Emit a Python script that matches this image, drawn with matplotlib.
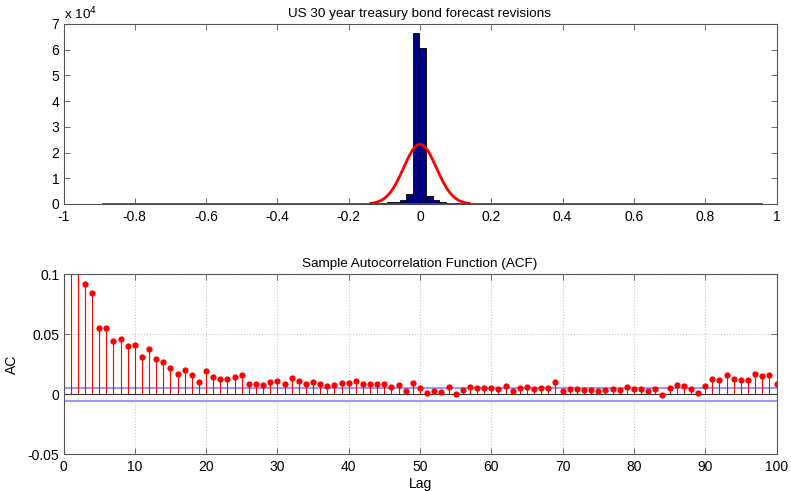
import numpy as np
import matplotlib
matplotlib.use("Agg")
import matplotlib.pyplot as plt

plt.rcParams['font.family'] = ['Liberation Sans', 'DejaVu Sans']

# ---------------- data ----------------
hist_min = -0.889
hist_max = 0.96
n_bins = 100
# nonzero bin counts (bin index -> count)
hist_bin_index = [42, 43, 44, 45, 46, 47, 48, 49, 50, 51, 52, 53]
hist_bin_count = [300, 600, 900, 1550, 4000, 66400, 60600, 3300, 1400, 900, 400, 200]

fit_mu = 0.0
fit_sigma = 0.046
fit_peak = 23200

acf_lags = list(range(0, 101))
acf_vals = [1.0, 0.16, 0.12, 0.092, 0.084, 0.055, 0.055, 0.044, 0.046, 0.040,
            0.041, 0.031, 0.038, 0.029, 0.027, 0.022, 0.017, 0.020, 0.016, 0.010,
            0.019, 0.014, 0.013, 0.013, 0.014, 0.016, 0.0085, 0.0085, 0.0075, 0.0103,
            0.0109, 0.0085, 0.0138, 0.0114, 0.0083, 0.0106, 0.0083, 0.0072, 0.0075, 0.0092,
            0.0098, 0.0111, 0.0088, 0.0086, 0.0086, 0.0086, 0.0064, 0.0080, 0.0027, 0.0098,
            0.0056, 0.0014, 0.0027, 0.0022, 0.0064, 0.0005, 0.0039, 0.0061, 0.0050, 0.0053,
            0.0050, 0.0045, 0.0069, 0.0027, 0.0053, 0.0064, 0.0045, 0.0054, 0.0050, 0.0100,
            0.0027, 0.0045, 0.0045, 0.0037, 0.0037, 0.0025, 0.0037, 0.0042, 0.0039, 0.0058,
            0.0045, 0.0045, 0.0025, 0.0045, -0.0002, 0.0053, 0.0078, 0.0067, 0.0042, 0.0011,
            0.0072, 0.0128, 0.0122, 0.0164, 0.0128, 0.0122, 0.0122, 0.0167, 0.0151, 0.0159,
            0.0083]
acf_bound = 0.0055

top_xticks = [-1, -0.8, -0.6, -0.4, -0.2, 0, 0.2, 0.4, 0.6, 0.8, 1]
top_xticklabels = ['-1', '-0.8', '-0.6', '-0.4', '-0.2', '0', '0.2', '0.4', '0.6', '0.8', '1']
top_yticks = [0, 10000, 20000, 30000, 40000, 50000, 60000, 70000]
top_yticklabels = ['0', '1', '2', '3', '4', '5', '6', '7']
bot_xticks = [0, 10, 20, 30, 40, 50, 60, 70, 80, 90, 100]
bot_yticks = [-0.05, 0, 0.05, 0.1]
bot_yticklabels = ['-0.05', '0', '0.05', '0.1']

# ---------------- figure ----------------
W, H = 791, 491
fig = plt.figure(figsize=(W / 100, H / 100), dpi=100)
axc = '#555555'
fs = 9.7
tfs = 10

def style(ax):
    for s in ax.spines.values():
        s.set_color(axc)
        s.set_linewidth(0.8)
        s.set_zorder(5)
    ax.tick_params(direction='in', length=4, width=0.6, color=axc,
                   top=True, right=True, labelsize=tfs, labelcolor='black')
    ax.tick_params(axis='x', pad=4)
    ax.tick_params(axis='y', pad=3)

# top histogram
ax1 = fig.add_axes([63.5 / W, 1 - 204 / H, 713 / W, 180 / H])
edges = np.linspace(hist_min, hist_max, n_bins + 1)
counts = np.zeros(n_bins)
for i, c in zip(hist_bin_index, hist_bin_count):
    counts[i] = c
ax1.plot([hist_min, hist_max], [0, 0], color='#4a4a55', linewidth=1.3,
         zorder=6, clip_on=False)
ax1.bar(edges[:-1], counts, width=np.diff(edges), align='edge',
        color='#000080', edgecolor='#000000', linewidth=0.6, zorder=2)
xs = np.linspace(fit_mu - 3 * fit_sigma, fit_mu + 3 * fit_sigma, 200)
ax1.plot(xs, fit_peak * np.exp(-0.5 * ((xs - fit_mu) / fit_sigma) ** 2),
         color='#ff0000', linewidth=2.0, zorder=3)
ax1.set_xlim(-1, 1)
ax1.set_ylim(0, 70000)
ax1.set_xticks(top_xticks)
ax1.set_xticklabels(top_xticklabels)
ax1.set_yticks(top_yticks)
ax1.set_yticklabels(top_yticklabels)
style(ax1)
ax1.set_title('US 30 year treasury bond forecast revisions', fontsize=fs, pad=5)
ax1.text(0.0, 1.012, r'x 10$^{4}$', transform=ax1.transAxes, fontsize=fs,
         ha='left', va='bottom')

# bottom ACF
ax2 = fig.add_axes([63.5 / W, 1 - 454.3 / H, 713 / W, 180 / H])
ax2.grid(True, color='#c8c8c8', linestyle=':', linewidth=0.8)
ax2.set_axisbelow(True)
ax2.axhline(acf_bound, color='#9999ff', linewidth=1.5, zorder=2)
ax2.axhline(-acf_bound, color='#9999ff', linewidth=1.5, zorder=2)
ax2.vlines(acf_lags, 0, acf_vals, color='#ff0000', linewidth=0.8, zorder=3)
ax2.axhline(0, color='#333333', linewidth=0.8, zorder=3)
ax2.plot(acf_lags, acf_vals, 'o', color='#ff0000', markersize=4.5,
         markeredgewidth=0, zorder=4, clip_on=True)
ax2.set_xlim(0, 100)
ax2.set_ylim(-0.05, 0.1)
ax2.set_xticks(bot_xticks)
ax2.set_yticks(bot_yticks)
ax2.set_yticklabels(bot_yticklabels)
style(ax2)
ax2.set_title('Sample Autocorrelation Function (ACF)', fontsize=fs, pad=5)
ax2.set_xlabel('Lag', fontsize=tfs, labelpad=2)
ax2.set_ylabel('AC', fontsize=tfs, labelpad=6)

fig.savefig('out.png', dpi=100)
